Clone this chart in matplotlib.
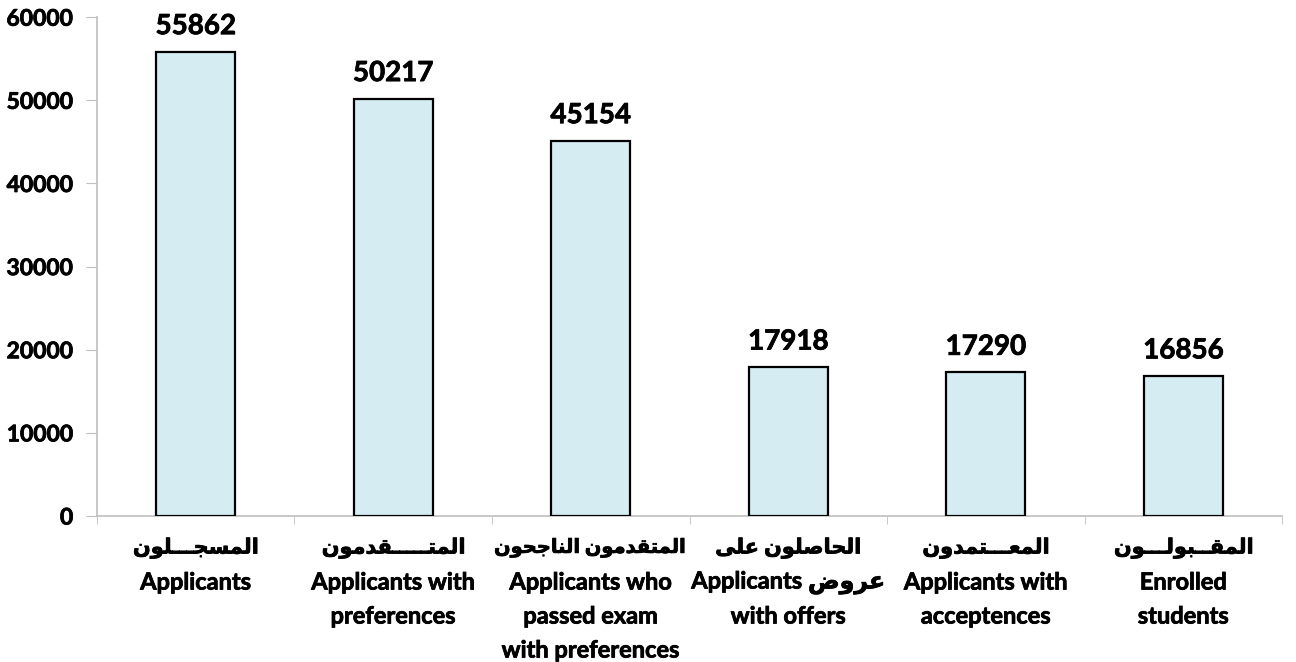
import matplotlib
matplotlib.use('Agg')
import matplotlib.pyplot as plt
import matplotlib.transforms as mtransforms
import matplotlib.patheffects as pe
import numpy as np

# data
arabic_labels = ["المسجـــلون", "المتـــــقدمون", "المتقدمون الناجحون",
                 "الحاصلون على", "المعـــتمدون", "المقــبولـــون"]
english_labels = ["Applicants", "Applicants with\npreferences",
                  "Applicants who\npassed exam\nwith preferences",
                  "Applicants {}\nwith offers", "Applicants with\nacceptences",
                  "Enrolled\nstudents"]
extra_arabic = ["", "", "", "عروض", "", ""]
values = [55862, 50217, 45154, 17918, 17290, 16856]
yticks = [0, 10000, 20000, 30000, 40000, 50000, 60000]


# simple arabic shaping (matplotlib has no bidi / joining support)
DUAL = {'ئ': 0xFE89, 'ب': 0xFE8F, 'ت': 0xFE95, 'ث': 0xFE99, 'ج': 0xFE9D,
        'ح': 0xFEA1, 'خ': 0xFEA5, 'س': 0xFEB1, 'ش': 0xFEB5, 'ص': 0xFEB9,
        'ض': 0xFEBD, 'ط': 0xFEC1, 'ظ': 0xFEC5, 'ع': 0xFEC9, 'غ': 0xFECD,
        'ف': 0xFED1, 'ق': 0xFED5, 'ك': 0xFED9, 'ل': 0xFEDD, 'م': 0xFEE1,
        'ن': 0xFEE5, 'ه': 0xFEE9, 'ي': 0xFEF1}
RIGHT = {'آ': 0xFE81, 'أ': 0xFE83, 'ؤ': 0xFE85, 'إ': 0xFE87, 'ا': 0xFE8D,
         'ة': 0xFE93, 'د': 0xFEA9, 'ذ': 0xFEAB, 'ر': 0xFEAD, 'ز': 0xFEAF,
         'و': 0xFEED, 'ى': 0xFEEF}
TATWEEL = 'ـ'


def can_join_next(c):
    return c in DUAL or c == TATWEEL


def joins(c):
    return c in DUAL or c in RIGHT or c == TATWEEL


def shape(text):
    out = []
    for i, c in enumerate(text):
        prev = text[i - 1] if i > 0 else ''
        nxt = text[i + 1] if i + 1 < len(text) else ''
        jp = prev != '' and can_join_next(prev) and joins(c)
        jn = nxt != '' and can_join_next(c) and joins(nxt)
        if c in DUAL:
            base = DUAL[c]
            if jp and jn:
                out.append(chr(base + 3))
            elif jp:
                out.append(chr(base + 1))
            elif jn:
                out.append(chr(base + 2))
            else:
                out.append(chr(base))
        elif c in RIGHT:
            out.append(chr(RIGHT[c] + 1) if jp else chr(RIGHT[c]))
        else:
            out.append(c)
    return ''.join(reversed(out))


plt.rcParams['font.family'] = ['Lato', 'DejaVu Sans']
plt.rcParams['font.weight'] = 'bold'
heavy = [pe.withStroke(linewidth=0.55, foreground='black')]

fig = plt.figure(figsize=(12.96, 6.62), dpi=100)
ax = fig.add_axes([0.0748, 0.2205, 0.9145, 0.7535])

x = np.arange(len(values))
bars = ax.bar(x, values, width=0.4, color='#d5ecf3', edgecolor='black', linewidth=1.6, zorder=3)

for xi, v in zip(x, values):
    ax.text(xi, v + 1500, str(v), ha='center', va='bottom', fontsize=20,
            fontweight='bold', path_effects=heavy)

ax.set_xlim(-0.5, len(values) - 0.5)
ax.set_ylim(0, 60000)
ax.set_yticks(yticks)
ax.set_yticklabels([str(t) for t in yticks], fontsize=16.5, fontweight='bold')
for lbl in ax.get_yticklabels():
    lbl.set_path_effects(heavy)

# category labels: arabic line first, then english lines
ax.set_xticks(x)
ax.set_xticklabels([''] * len(x))
ax.tick_params(axis='x', length=0)
base = mtransforms.blended_transform_factory(ax.transData, ax.transAxes)


def below(px):
    return base + mtransforms.ScaledTranslation(0, -px / 100.0, fig.dpi_scale_trans)


for xi, ar, en, ex in zip(x, arabic_labels, english_labels, extra_arabic):
    ar_size = 14 if len(ar) > 14 else 15
    ax.text(xi, 0, shape(ar), transform=below(32), ha='center', va='center',
            fontsize=ar_size, fontweight='bold', clip_on=False, path_effects=heavy)
    en = en.format(shape(ex)) if ex else en
    for k, line in enumerate(en.split('\n')):
        ax.text(xi, 0, line, transform=below(66 + 34 * k), ha='center', va='center',
                fontsize=17, fontweight='bold', clip_on=False, path_effects=heavy)

ax.set_xticks(np.arange(len(values) + 1) - 0.5, minor=True)
ax.tick_params(axis='x', which='minor', length=6, color='#bfbfbf', direction='out')
ax.tick_params(axis='y', length=8, color='#bfbfbf', direction='out', pad=9)

for s in ['top', 'right']:
    ax.spines[s].set_visible(False)
for s in ['left', 'bottom']:
    ax.spines[s].set_color('#bfbfbf')
    ax.spines[s].set_linewidth(1.2)

plt.savefig('out.png', dpi=100)
